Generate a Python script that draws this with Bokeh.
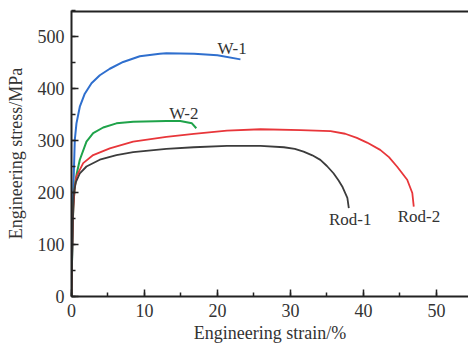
from bokeh.plotting import figure
from bokeh.models import Span, Range1d, SingleIntervalTicker
from bokeh.core.properties import value
from bokeh.embed import file_html
from bokeh.resources import INLINE

# Engineering strain (%) / stress (MPa)
w1_strain = [0, 0.12, 0.23, 0.32, 0.45, 0.68, 1.14, 1.82, 2.74, 3.88, 5.25, 7.08, 9.36,
             12.1, 13.0, 16.8, 20.0, 23.15]
w1_stress = [0, 120, 199, 237, 301, 333, 365, 390, 410, 425.5, 438, 451, 462,
             467, 468, 467, 464, 456]

w2_strain = [0, 0.12, 0.25, 0.45, 0.7, 1.14, 2.05, 2.97, 4.34, 6.16, 8.45, 13.0, 14.9,
             16.5, 17.1]
w2_stress = [0, 110, 175, 212, 235, 263, 298, 314, 325, 333, 336, 337.5, 337.5,
             333, 323.5]

rod2_strain = [0, 0.1, 0.25, 0.45, 0.68, 1.6, 2.97, 5.25, 8.45, 13.0, 16.75, 21.3, 25.9,
               31.4, 35.5, 37.5, 39.1, 40.5, 42.3, 43.5, 44.6, 46.0, 46.7, 46.9]
rod2_stress = [0, 90, 170, 210, 231, 256.5, 272, 285, 298, 307, 312.6, 319, 321.6,
               320, 318, 313, 305, 296, 282, 268, 250, 224.5, 199, 173]

rod1_strain = [0, 0.1, 0.2, 0.32, 0.6, 1.14, 2.05, 3.88, 6.16, 8.45, 13.0, 16.75, 21.3,
               25.9, 29.1, 30.6, 31.8, 33.0, 34.1, 35.0, 35.9, 36.6, 37.1, 37.8, 38.0]
rod1_stress = [0, 80, 150, 199, 220, 237, 250, 263, 272, 277.5, 284, 287, 289.6,
               289.6, 287, 284, 278.7, 271.5, 262.8, 251, 237, 223, 211.7, 189.5, 170]

labels = ["W-1", "W-2", "Rod-1", "Rod-2"]
label_x = [22.0, 15.4, 38.2, 47.6]
label_y = [476, 352, 148, 153]

FONT = "Liberation Serif"
TXT = "#333333"
AX = "#222222"

p = figure(width=468, height=345, output_backend="svg", toolbar_location=None,
           x_range=Range1d(0, 54.4), y_range=Range1d(0, 550),
           min_border_left=71, min_border_top=10, min_border_bottom=48, min_border_right=0)
p.background_fill_color = "white"
p.border_fill_color = "white"
p.outline_line_color = None
p.grid.visible = False

p.line(w1_strain, w1_stress, line_color="#2f6fce", line_width=2)
p.line(w2_strain, w2_stress, line_color="#1fa34a", line_width=2)
p.line(rod2_strain, rod2_stress, line_color="#e8363a", line_width=1.8)
p.line(rod1_strain, rod1_stress, line_color="#3c3c3c", line_width=1.8)

p.text(x=label_x, y=label_y, text=labels, text_font=value(FONT), text_font_size="17px",
       text_color=TXT, text_align="center", text_baseline="middle")

p.add_layout(Span(location=550, dimension="width", line_color=AX, line_width=4))

for ax in (p.xaxis[0], p.yaxis[0]):
    ax.axis_line_color = AX
    ax.axis_line_width = 2
    ax.major_tick_line_color = AX
    ax.minor_tick_line_color = AX
    ax.major_tick_line_width = 1.5
    ax.minor_tick_line_width = 1.5
    ax.major_tick_in = 7
    ax.major_tick_out = 0
    ax.minor_tick_in = 4
    ax.minor_tick_out = 0
    ax.major_label_text_font = FONT
    ax.major_label_text_font_size = "18px"
    ax.major_label_text_color = TXT
    ax.axis_label_text_font = FONT
    ax.axis_label_text_font_size = "18px"
    ax.axis_label_text_font_style = "normal"
    ax.axis_label_text_color = TXT

p.xaxis[0].ticker = SingleIntervalTicker(interval=10, num_minor_ticks=2)
p.yaxis[0].ticker = SingleIntervalTicker(interval=100, num_minor_ticks=2)
p.xaxis[0].axis_label = "Engineering strain/%"
p.yaxis[0].axis_label = "Engineering stress/MPa"
p.xaxis[0].major_label_standoff = 7
p.yaxis[0].major_label_standoff = 7
p.xaxis[0].axis_label_standoff = 3
p.yaxis[0].axis_label_standoff = 9

open("out.html", "w").write(file_html(p, INLINE))
